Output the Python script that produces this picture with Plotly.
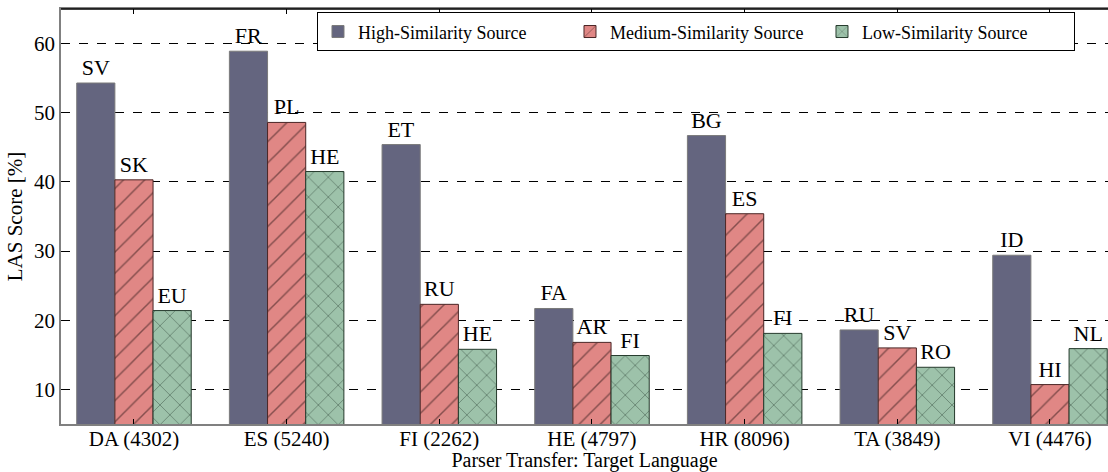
import plotly.graph_objects as go

targets = ["DA (4302)", "ES (5240)", "FI (2262)", "HE (4797)", "HR (8096)", "TA (3849)", "VI (4476)"]

high_vals = [54.3, 58.9, 45.4, 21.7, 46.7, 18.6, 29.4]
high_src = ["SV", "FR", "ET", "FA", "BG", "RU", "ID"]

med_vals = [40.3, 48.6, 22.3, 16.8, 35.4, 16.0, 10.7]
med_src = ["SK", "PL", "RU", "AR", "ES", "SV", "HI"]

low_vals = [21.4, 41.5, 15.8, 14.9, 18.1, 13.2, 15.9]
low_src = ["EU", "HE", "HE", "FI", "FI", "RO", "NL"]

yticks = [10, 20, 30, 40, 50, 60]

FONT = "Liberation Serif"
xpos = list(range(len(targets)))

fig = go.Figure()
fig.add_trace(go.Bar(
    x=xpos, y=high_vals, name="High-Similarity Source",
    text=high_src, textposition="outside", cliponaxis=False,
    textfont=dict(family=FONT, size=22, color="black"),
    marker=dict(color="#64657F", line=dict(color="#7a7a7a", width=1)),
))
fig.add_trace(go.Bar(
    x=xpos, y=med_vals, name="Medium-Similarity Source",
    text=med_src, textposition="outside", cliponaxis=False,
    textfont=dict(family=FONT, size=22, color="black"),
    marker=dict(color="#E08785", line=dict(color="#4a2525", width=1),
                pattern=dict(shape="/", fgcolor="#2a1515", size=15, solidity=0.1)),
))
fig.add_trace(go.Bar(
    x=xpos, y=low_vals, name="Low-Similarity Source",
    text=low_src, textposition="outside", cliponaxis=False,
    textfont=dict(family=FONT, size=22, color="black"),
    marker=dict(color="#9DC2AA", line=dict(color="#253a2c", width=1),
                pattern=dict(shape="x", fgcolor="#15251b", size=14, solidity=0.1)),
))
fig.update_traces(constraintext="none")

fig.update_layout(
    width=1108, height=472,
    margin=dict(l=61, r=0, t=9, b=48),
    barmode="group", bargap=0.25, bargroupgap=0,
    plot_bgcolor="white", paper_bgcolor="white",
    font=dict(family=FONT, size=21, color="black"),
    legend=dict(
        orientation="h", x=0.2445, xanchor="left", y=0.992, yanchor="top",
        bgcolor="white", bordercolor="black", borderwidth=1,
        font=dict(family=FONT, size=18, color="black"),
        traceorder="normal", entrywidth=207, entrywidthmode="pixels",
    ),
    xaxis=dict(
        range=[-0.478, 6.38], tickmode="array", tickvals=xpos, ticktext=targets,
        showgrid=False, showline=True, linecolor="#808080", linewidth=1.5,
        mirror="ticks", ticks="inside", ticklen=5, tickcolor="black",
        title=dict(text="Parser Transfer: Target Language", standoff=2,
                   font=dict(family=FONT, size=20)),
        tickfont=dict(family=FONT, size=21), zeroline=False,
        ticklabelstandoff=-5,
    ),
    yaxis=dict(
        range=[5, 65], tickmode="array", tickvals=yticks,
        showgrid=True, gridcolor="black", griddash="dash", gridwidth=1,
        showline=True, linecolor="#808080", linewidth=1.5, ticks="",
        title=dict(text="LAS Score [%]", standoff=6, font=dict(family=FONT, size=21)),
        tickfont=dict(family=FONT, size=21), zeroline=False,
    ),
)
fig.add_shape(type="line", xref="paper", yref="paper", x0=0, x1=1, y0=1, y1=1,
              line=dict(color="black", width=1.5))

fig.write_html("out.html", config={"displayModeBar": False},
               post_script="document.body.style.margin='0';document.body.style.overflow='hidden';")
